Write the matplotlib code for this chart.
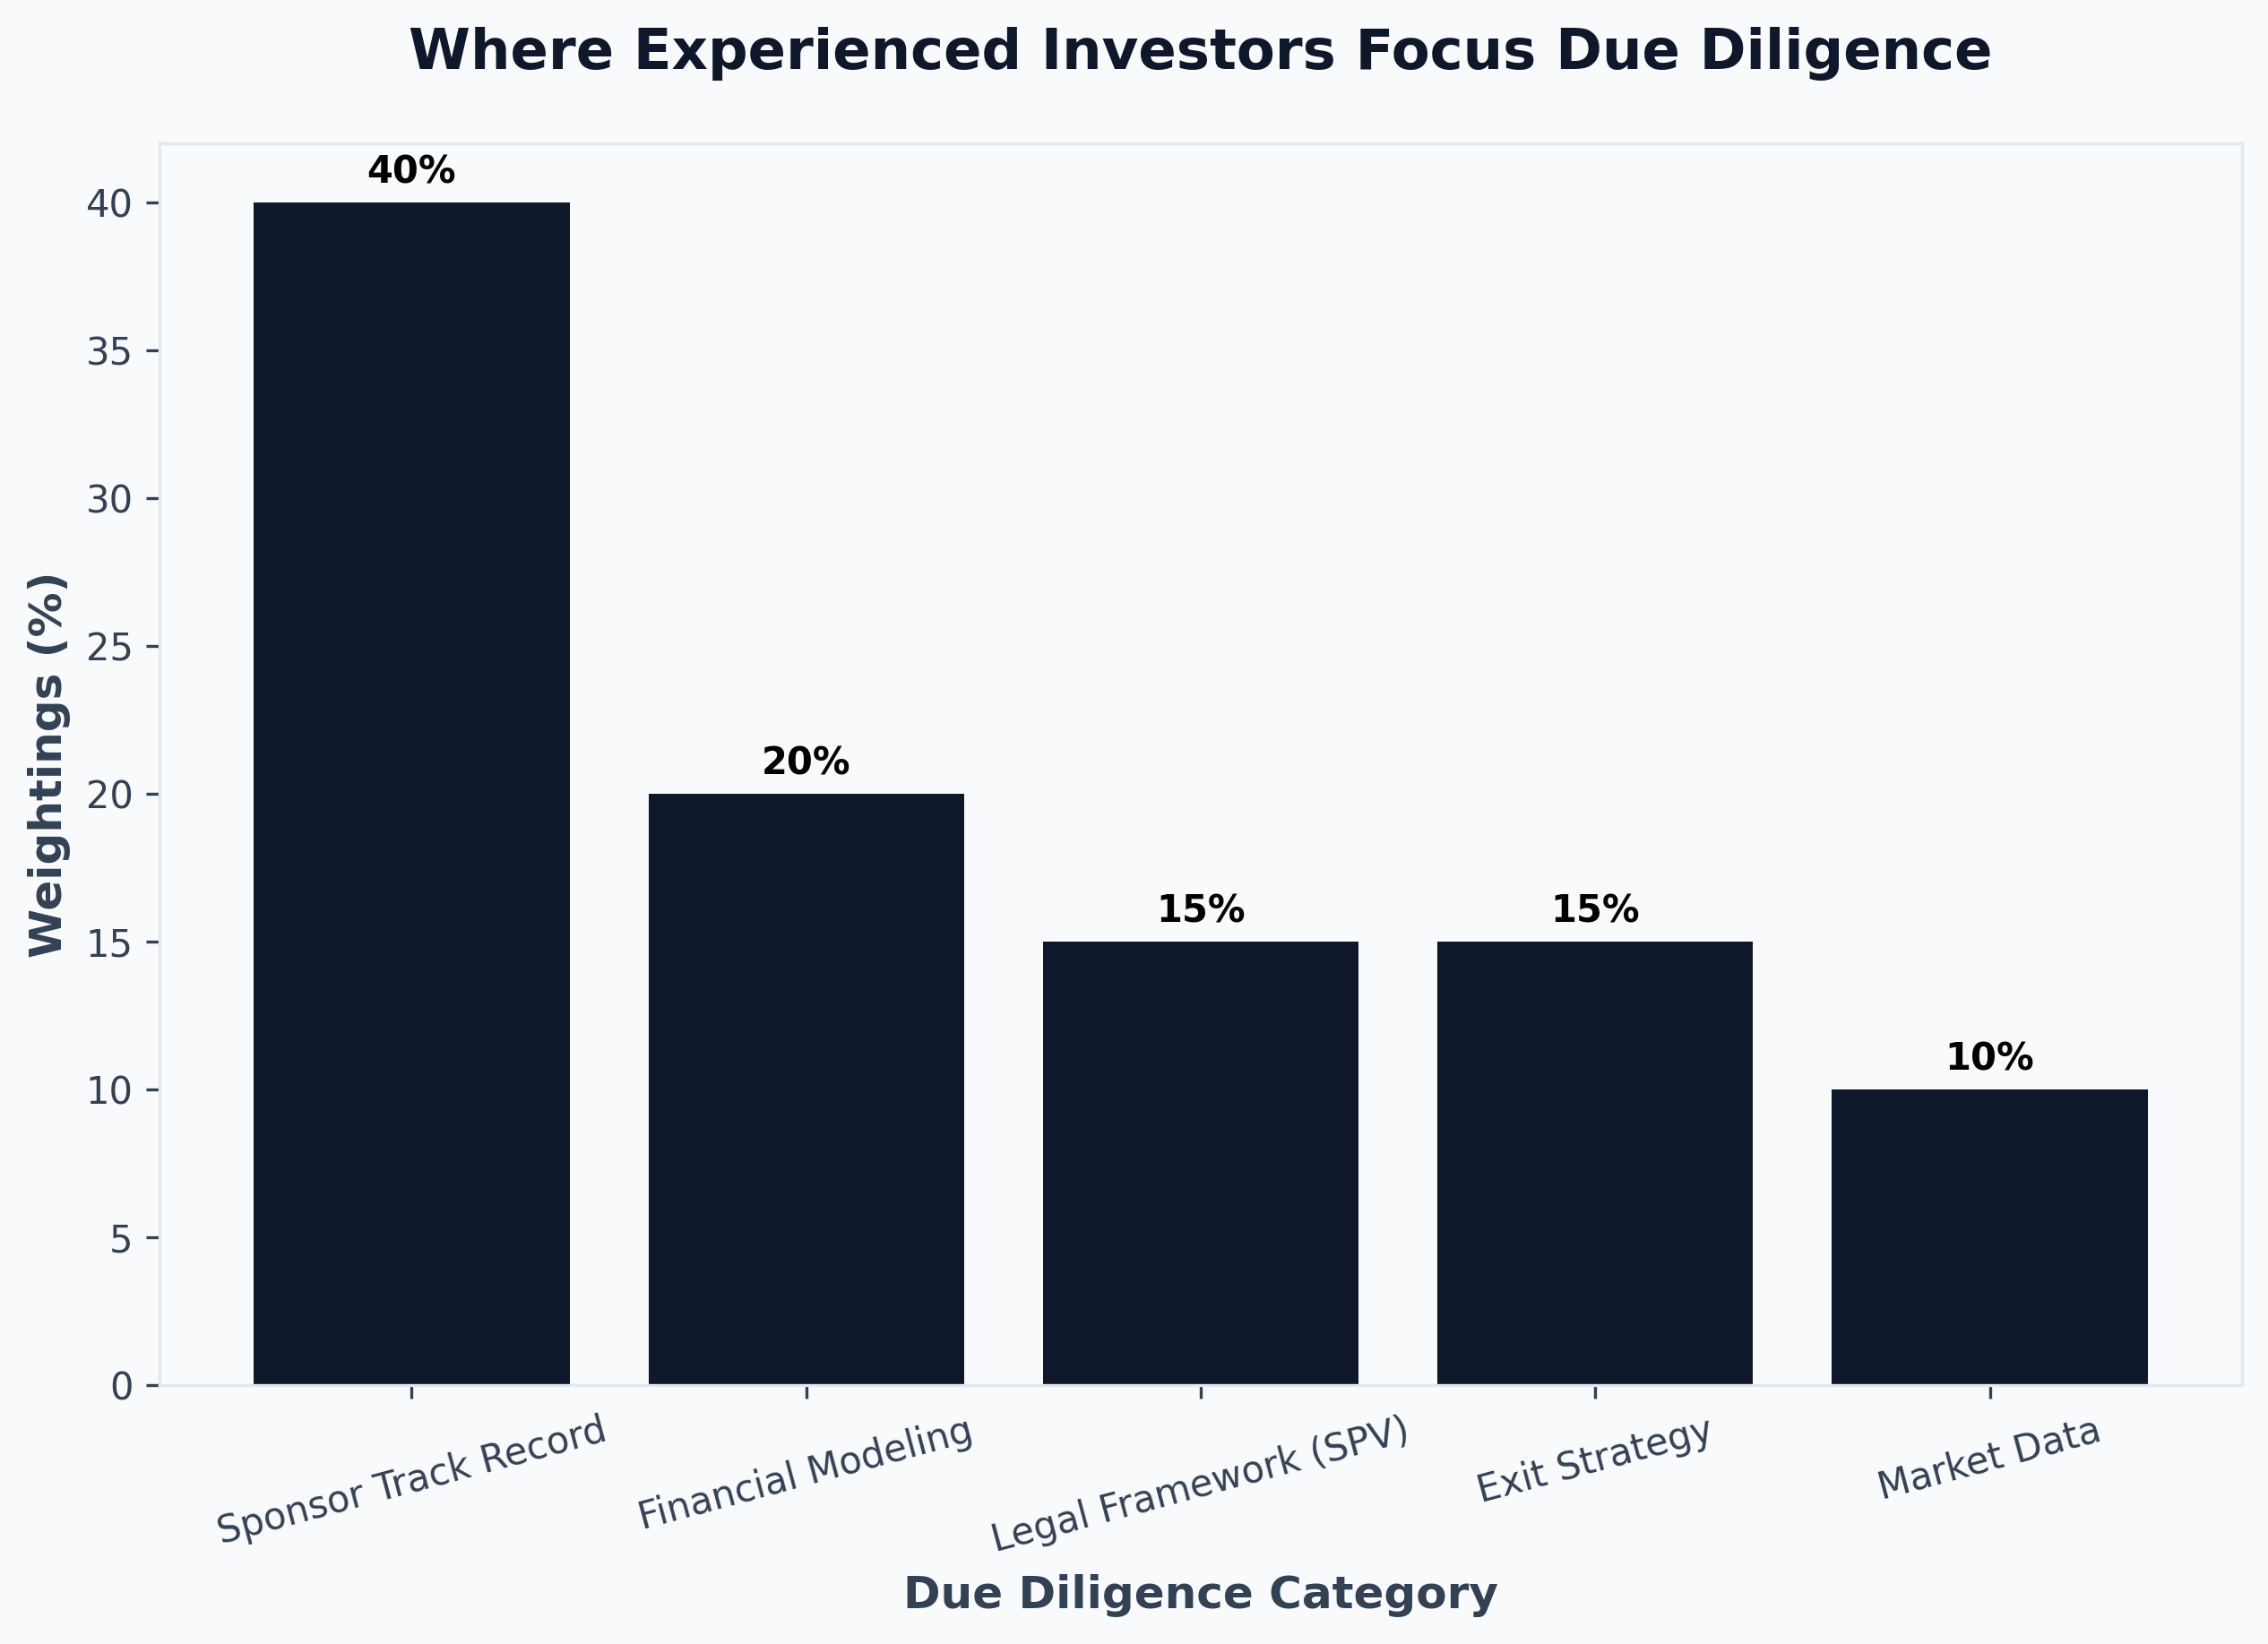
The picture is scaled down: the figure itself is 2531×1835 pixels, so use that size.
import matplotlib
matplotlib.use('Agg')
import matplotlib.pyplot as plt

# Data
categories = ['Sponsor Track Record', 'Financial Modeling', 'Legal Framework (SPV)', 'Exit Strategy', 'Market Data']
weights = [40, 20, 15, 15, 10]

bg = '#f8fafc'
bar_color = '#0f172a'
text_color = '#334155'
spine_color = '#e2e8f0'

fig, ax = plt.subplots(figsize=(2531.4 / 300, 1835.4 / 300), dpi=300)
fig.patch.set_facecolor(bg)
ax.set_facecolor(bg)

bars = ax.bar(categories, weights, width=0.8, color=bar_color)
ax.bar_label(bars, labels=['{}%'.format(w) for w in weights], padding=3,
             fontsize=10, fontweight='bold', color='black')

ax.set_title('Where Experienced Investors Focus Due Diligence',
             fontsize=15, fontweight='bold', color=bar_color, pad=20)
ax.set_xlabel('Due Diligence Category', fontsize=12, fontweight='bold', color=text_color)
ax.set_ylabel('Weightings (%)', fontsize=12, fontweight='bold', color=text_color)

ax.tick_params(axis='both', colors=text_color, labelsize=10)
plt.setp(ax.get_xticklabels(), rotation=15)

for s in ax.spines.values():
    s.set_color(spine_color)

fig.subplots_adjust(left=0.0702, right=0.9885, top=0.9128, bottom=0.1575)
fig.savefig('out.png', dpi=300, facecolor=bg)
